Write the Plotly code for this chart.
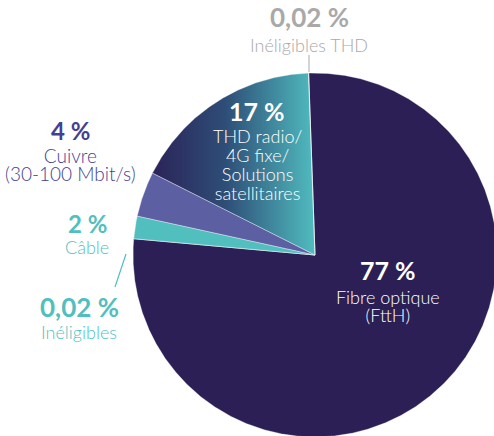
import numpy as np
import plotly.graph_objects as go

# Share of premises by best available access technology (clockwise from top)
categories = ["Fibre optique (FttH)", "Inéligibles", "Câble",
              "Cuivre (30-100 Mbit/s)", "THD radio / 4G fixe / Solutions satellitaires",
              "Inéligibles THD"]
values = [77, 0.02, 2, 4, 17, 0.02]
value_labels = ["77 %", "0,02 %", "2 %", "4 %", "17 %", "0,02 %"]

FIBRE = "#2b1f56"
TEAL = "#52bfbf"
CUIVRE = "#5d5fa3"
GREY = "#a9a9a9"
colors = [FIBRE, TEAL, TEAL, CUIVRE, None, GREY]
gradient = [[0.0, "#2b2358"], [0.45, "#2e4e77"], [1.0, "#50bcbf"]]

W, H = 494, 436
CX, CY, R = 315, 255, 182
START = -2.0  # degrees, clockwise from 12 o'clock

FONT = "Lato"
LINE_SPACING = 1.3  # plotly's multi-line spacing, in em of the base font

fig = go.Figure()

total = sum(values)
angle = START
for cat, val, col in zip(categories, values, colors):
    span = 360.0 * val / total
    n = max(2, int(span * 4))
    th = np.radians(np.linspace(angle, angle + span, n))
    xs = np.concatenate([[CX], CX + R * np.sin(th), [CX]])
    ys = np.concatenate([[CY], CY - R * np.cos(th), [CY]])
    kw = dict(fillcolor=col) if col else dict(
        fillgradient=dict(type="horizontal", colorscale=gradient))
    fig.add_trace(go.Scatter(
        x=xs, y=ys, mode="lines", fill="toself", name=cat,
        line=dict(color="rgba(255,255,255,0.6)", width=0.6),
        hoverinfo="name", showlegend=False, **kw))
    angle += span


def label(x, y, pct, desc, color, pct_size=24, desc_size=18, gap=22, lh=19):
    fig.add_annotation(x=x, y=y - 1, text=f"<b>{pct}</b>", showarrow=False,
                       font=dict(family=FONT, size=pct_size, color=color),
                       xanchor="center", yanchor="middle", borderpad=0)
    # description block: tight line spacing via a small base size,
    # each line set back to the wanted size
    body = "<br>".join(f"<span style='font-size:{desc_size}px'>{t}</span>"
                       for t in desc)
    yc = y + gap + (len(desc) - 1) * lh / 2 + 1
    fig.add_annotation(x=x, y=yc, text=body, showarrow=False,
                       font=dict(family=FONT, size=lh / LINE_SPACING,
                                 color=color, weight=300),
                       xanchor="center", yanchor="middle", borderpad=0)


label(309, 18, value_labels[5], ["Inéligibles THD"], GREY,
      pct_size=26, gap=26)
label(257, 112, value_labels[4],
      ["THD radio/", "4G fixe/", "Solutions", "satellitaires"], "white",
      pct_size=25, desc_size=18, gap=23, lh=19)
label(70, 131, value_labels[3], ["Cuivre", "(30-100 Mbit/s)"], "#433f92",
      desc_size=19, gap=23, lh=18)
label(87, 224, value_labels[2], ["Câble"], TEAL, gap=22)
label(79, 308, value_labels[1], ["Inéligibles"], TEAL, pct_size=26, gap=23)
label(388, 271, value_labels[0], ["Fibre optique", "(FttH)"], "white",
      pct_size=25, gap=25, lh=18)

# leader lines for the two hair-thin slices
fig.add_shape(type="line", x0=309, y0=55, x1=309, y1=72,
              line=dict(color=GREY, width=1))
fig.add_shape(type="line", x0=126, y0=254, x1=115, y1=287,
              line=dict(color=TEAL, width=1.2))

fig.update_layout(
    width=W, height=H,
    margin=dict(l=0, r=0, t=0, b=0),
    paper_bgcolor="white", plot_bgcolor="white",
    xaxis=dict(range=[0, W], visible=False, fixedrange=True),
    yaxis=dict(range=[H, 0], visible=False, fixedrange=True),
)

fig.write_html("out.html")
